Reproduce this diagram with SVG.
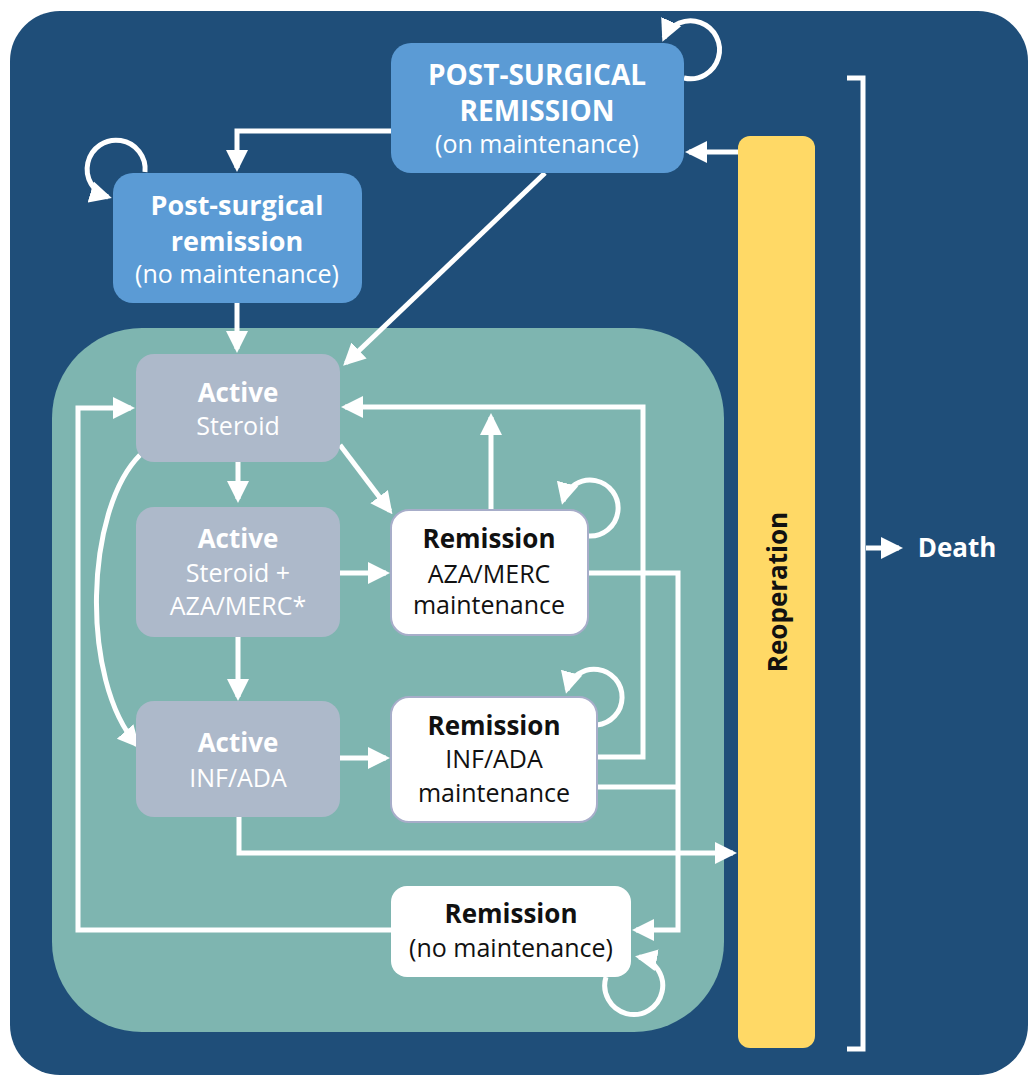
<svg xmlns="http://www.w3.org/2000/svg" width="1029" height="1077" viewBox="0 0 1029 1077">
<style>
.t{font-family:"Open Sans","Liberation Sans",sans-serif;text-anchor:middle}
.b{font-weight:bold}
.w{fill:#ffffff}
.k{fill:#111111}
.h28{font-size:28px}
.h27{font-size:27px}
.h26{font-size:26px}
.r25{font-size:25px}
.blue{fill:#5B9BD5}
.grey{fill:#ADB9CA}
.rem{fill:#ffffff;stroke:#A7ADC9;stroke-width:2}
.c{fill:none;stroke:#ffffff;stroke-width:5;stroke-linejoin:miter}
.a{marker-end:url(#ah)}
</style>
<defs>
<marker id="ah" markerUnits="userSpaceOnUse" markerWidth="22" markerHeight="24" viewBox="0 0 22 24" refX="18" refY="12" orient="auto">
<path d="M0,1 L22,12 L0,23 z" fill="#ffffff"/>
</marker>
</defs>
<rect id="background" x="10" y="11" width="1018" height="1064" rx="50" fill="#1F4E79"/>
<rect id="active-region" x="52" y="328" width="672" height="704" rx="90" fill="#7EB5B0"/>
<g id="reoperation">
<rect x="738" y="136" width="77" height="912" rx="12" fill="#FFD966"/>
<text class="t b k" font-size="26" transform="translate(787,592) rotate(-90)">Reoperation</text>
</g>
<g id="connectors">
<path class="c a" d="M391 131 H237 V168"/>
<path class="c a" d="M237 303 V349"/>
<path class="c a" d="M545 173 L346 363"/>
<path class="c a" d="M738 152 H689"/>
<path class="c a" d="M684 78 A29 29 0 1 0 664 38"/>
<path class="c a" d="M145 172 A29 29 0 1 0 108 197"/>
<path class="c a" d="M238 462 V499"/>
<path class="c a" d="M238 637 V697"/>
<path class="c a" d="M140 455 C85 510 80 680 137 745"/>
<path class="c a" d="M340 445 L390 511"/>
<path class="c a" d="M340 573 H386"/>
<path class="c a" d="M340 758 H386"/>
<path class="c a" d="M491 510 V417"/>
<path class="c a" d="M597 757 H643 V407 H345"/>
<path class="c a" d="M588 573 H678 V930 H636"/>
<path class="c" d="M597 787 H678"/>
<path class="c a" d="M239 817 V853 H733"/>
<path class="c a" d="M391 930 H78 V408 H131"/>
<path class="c a" d="M588 536 A28 28 0 1 0 563 501"/>
<path class="c a" d="M597 725 A28 28 0 1 0 567 690"/>
<path class="c a" d="M606 977 A29 29 0 1 0 639 957"/>
<path class="c" d="M847 78 H863 V1049 H847"/>
<path class="c a" d="M866 548 H899"/>
</g>
<g id="post-surgical-on-maintenance">
<rect class="blue" x="391" y="43" width="293" height="130" rx="20"/>
<text class="t b w h28" x="537" y="85">POST-SURGICAL</text>
<text class="t b w h28" x="537" y="121">REMISSION</text>
<text class="t w r25" x="537" y="153">(on maintenance)</text>
</g>
<g id="post-surgical-no-maintenance">
<rect class="blue" x="113" y="173" width="249" height="130" rx="20"/>
<text class="t b w h27" x="237" y="215">Post-surgical</text>
<text class="t b w h27" x="237" y="251">remission</text>
<text class="t w r25" x="237" y="283">(no maintenance)</text>
</g>
<g id="active-steroid">
<rect class="grey" x="136" y="354" width="204" height="108" rx="18"/>
<text class="t b w h26" x="238" y="402">Active</text>
<text class="t w r25" x="238" y="435">Steroid</text>
</g>
<g id="active-steroid-aza">
<rect class="grey" x="136" y="507" width="204" height="130" rx="18"/>
<text class="t b w h26" x="238" y="548">Active</text>
<text class="t w r25" x="238" y="582">Steroid +</text>
<text class="t w r25" x="238" y="615">AZA/MERC*</text>
</g>
<g id="active-inf-ada">
<rect class="grey" x="136" y="701" width="204" height="116" rx="18"/>
<text class="t b w h26" x="238" y="752">Active</text>
<text class="t w r25" x="238" y="787">INF/ADA</text>
</g>
<g id="remission-aza-merc">
<rect class="rem" x="391" y="510" width="197" height="125" rx="18"/>
<text class="t b k h26" x="489" y="548">Remission</text>
<text class="t k r25" x="489" y="583">AZA/MERC</text>
<text class="t k r25" x="489" y="614">maintenance</text>
</g>
<g id="remission-inf-ada">
<rect class="rem" x="391" y="697" width="206" height="125" rx="18"/>
<text class="t b k h26" x="494" y="735">Remission</text>
<text class="t k r25" x="494" y="768">INF/ADA</text>
<text class="t k r25" x="494" y="802">maintenance</text>
</g>
<g id="remission-no-maintenance">
<rect x="391" y="886" width="240" height="91" rx="16" fill="#ffffff"/>
<text class="t b k h26" x="511" y="923">Remission</text>
<text class="t k r25" x="511" y="957">(no maintenance)</text>
</g>
<g id="death">
<text class="t b w h26" x="957" y="557">Death</text>
</g>
</svg>
